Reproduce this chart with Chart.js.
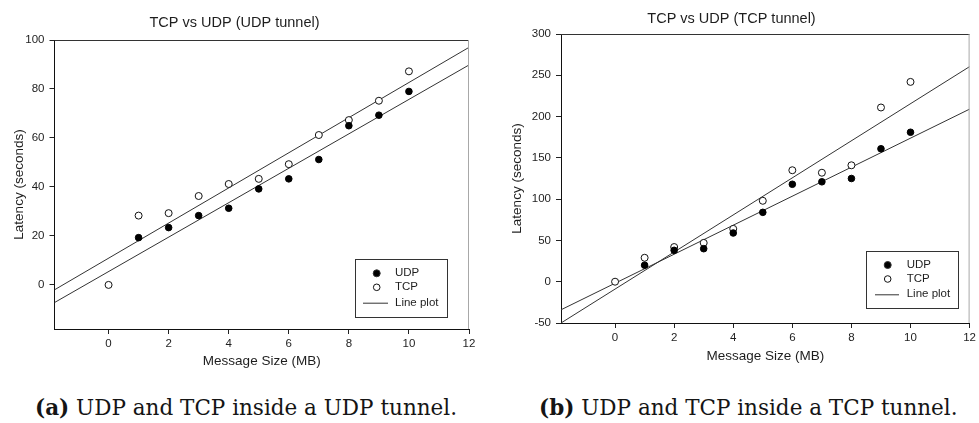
<!DOCTYPE html>
<html>
<head>
<meta charset="utf-8">
<script src="https://cdn.jsdelivr.net/npm/chart.js@4.4.1/dist/chart.umd.min.js"></script>
<style>
  html, body { margin: 0; padding: 0; background: #fff; }
  body { width: 979px; height: 423px; overflow: hidden; position: relative; }
  #c1 { position: absolute; left: 0; top: 0; }
  #c2 { position: absolute; left: 490px; top: 0; }
  .cap { position: absolute; top: 395px; font-family: "DejaVu Serif", "Liberation Serif", serif; font-size: 21.5px; line-height: 26px; color: #151515; white-space: nowrap; }
  #capA { left: 35px; }
  #capB { left: 539px; }
</style>
</head>
<body>
<canvas id="c1" width="490" height="375"></canvas>
<canvas id="c2" width="489" height="375"></canvas>
<div class="cap" id="capA"><b>(a)</b> UDP and TCP inside a UDP tunnel.</div>
<div class="cap" id="capB"><b>(b)</b> UDP and TCP inside a TCP tunnel.</div>
<script>
// ---- data ----
const titleA = "TCP vs UDP (UDP tunnel)";
const titleB = "TCP vs UDP (TCP tunnel)";
const xTitle = "Message Size (MB)";
const yTitle = "Latency (seconds)";
const legendLabels = ["UDP", "TCP", "Line plot"];

const sizesUDP = [1, 2, 3, 4, 5, 6, 7, 8, 9, 10];
const sizesTCP = [0, 1, 2, 3, 4, 5, 6, 7, 8, 9, 10];

// (a) UDP tunnel
const udpTunnelUDP = [19.3, 23.4, 28.3, 31.3, 39.2, 43.3, 51.2, 65, 69.3, 79];
const udpTunnelTCP = [0, 28.3, 29.3, 36.3, 41.2, 43.3, 49.3, 61.2, 67.3, 75.2, 87.2];
const udpTunnelFitX = [-1.8, 12];
const udpTunnelFitUDP = [-7.2, 89.8];
const udpTunnelFitTCP = [-2, 97];

// (b) TCP tunnel
const tcpTunnelUDP = [20, 38, 40, 59, 84, 118, 121, 125, 161, 181];
const tcpTunnelTCP = [0, 29, 42, 47, 64, 98, 135, 132, 141, 211, 242];
const tcpTunnelFitX = [-1.83, 12];
const tcpTunnelFitUDP = [-34, 209];
const tcpTunnelFitTCP = [-50, 260.5];

const xTicks = [0, 2, 4, 6, 8, 10, 12];
const yTicksA = [0, 20, 40, 60, 80, 100];
const yTicksB = [-50, 0, 50, 100, 150, 200, 250, 300];

// ---- drawing ----
const FONT = '"Liberation Sans", Arial, sans-serif';
const INK = '#1e1e1e';

const zip = (xs, ys) => xs.map((x, i) => ({ x: x, y: ys[i] }));

const framePlugin = {
  id: 'frame',
  afterDatasetsDraw(chart) {
    const { ctx, chartArea: a } = chart;
    ctx.save();
    ctx.lineWidth = 1;
    ctx.strokeStyle = '#333';
    ctx.beginPath();
    ctx.moveTo(a.left, a.top + 0.5);
    ctx.lineTo(a.right, a.top + 0.5);
    ctx.stroke();
    ctx.strokeStyle = '#a8a8a8';
    ctx.beginPath();
    ctx.moveTo(a.right - 0.5, a.top);
    ctx.lineTo(a.right - 0.5, a.bottom);
    ctx.stroke();
    ctx.restore();
  }
};

const boxLegendPlugin = {
  id: 'boxLegend',
  afterDraw(chart, args, o) {
    const ctx = chart.ctx;
    ctx.save();
    ctx.fillStyle = '#fff';
    ctx.fillRect(o.box[0], o.box[1], o.box[2] - o.box[0], o.box[3] - o.box[1]);
    ctx.strokeStyle = '#333';
    ctx.lineWidth = 1;
    ctx.strokeRect(o.box[0] + 0.5, o.box[1] + 0.5, o.box[2] - o.box[0], o.box[3] - o.box[1]);
    // UDP marker
    ctx.beginPath();
    ctx.arc(o.markerX, o.rows[0], 3.5, 0, Math.PI * 2);
    ctx.fillStyle = '#000';
    ctx.fill();
    ctx.stroke();
    // TCP marker
    ctx.beginPath();
    ctx.arc(o.markerX, o.rows[1], 3.3, 0, Math.PI * 2);
    ctx.fillStyle = '#fff';
    ctx.fill();
    ctx.strokeStyle = '#111';
    ctx.stroke();
    // line sample
    ctx.strokeStyle = '#333';
    ctx.beginPath();
    ctx.moveTo(o.line[0], o.rows[2] + 0.5);
    ctx.lineTo(o.line[1], o.rows[2] + 0.5);
    ctx.stroke();
    ctx.fillStyle = INK;
    ctx.font = '11.5px ' + FONT;
    ctx.textBaseline = 'middle';
    ctx.textAlign = 'left';
    legendLabels.forEach((t, i) => ctx.fillText(t, o.textX, o.rows[i]));
    ctx.restore();
  }
};

function makeChart(id, cfg) {
  const datasets = [
    { label: legendLabels[0], type: 'scatter', data: zip(sizesUDP, cfg.udp),
      backgroundColor: '#000', borderColor: '#000', borderWidth: 1, pointRadius: 3.3, pointHoverRadius: 3.3 },
    { label: legendLabels[1], type: 'scatter', data: zip(sizesTCP, cfg.tcp),
      backgroundColor: '#fff', borderColor: '#111', borderWidth: 1, pointRadius: 3.5, pointHoverRadius: 3.5 },
    { label: legendLabels[2], type: 'line', data: zip(cfg.fitX, cfg.fitUDP),
      borderColor: '#333', borderWidth: 1, pointRadius: 0, fill: false, tension: 0 },
    { label: legendLabels[2], type: 'line', data: zip(cfg.fitX, cfg.fitTCP),
      borderColor: '#333', borderWidth: 1, pointRadius: 0, fill: false, tension: 0 }
  ];
  return new Chart(document.getElementById(id), {
    type: 'scatter',
    data: { datasets },
    plugins: [framePlugin, boxLegendPlugin],
    options: {
      responsive: false,
      animation: false,
      devicePixelRatio: 1,
      layout: { padding: { left: 0, right: cfg.padRight, top: 0, bottom: 0 } },
      plugins: {
        legend: { display: false },
        tooltip: { enabled: false },
        title: {
          display: true, text: cfg.title, color: INK,
          font: { family: FONT, size: 14.5, weight: 'normal', lineHeight: 1.2 },
          padding: { top: cfg.titleTop, bottom: cfg.titleBottom }
        },
        boxLegend: cfg.legend
      },
      scales: {
        x: {
          type: 'linear', min: cfg.xMin, max: 12,
          afterBuildTicks: s => { s.ticks = xTicks.map(v => ({ value: v })); },
          afterFit: s => { s.height = cfg.xHeight; },
          grid: { display: true, drawOnChartArea: false, drawTicks: true, tickLength: 5, color: '#222', lineWidth: 1 },
          border: { display: true, color: '#111', width: 1 },
          ticks: { color: INK, font: { family: FONT, size: 11.5 }, padding: 3, maxRotation: 0, autoSkip: false },
          title: { display: true, text: xTitle, color: INK, font: { family: FONT, size: 13.5, lineHeight: 1.2 },
                   padding: { top: 0, bottom: cfg.xTitleBottom } }
        },
        y: {
          type: 'linear', min: cfg.yMin, max: cfg.yMax,
          afterBuildTicks: s => { s.ticks = cfg.yTicks.map(v => ({ value: v })); },
          afterFit: s => { s.width = cfg.yWidth; },
          grid: { display: true, drawOnChartArea: false, drawTicks: true, tickLength: 5, color: '#222', lineWidth: 1 },
          border: { display: true, color: '#111', width: 1 },
          ticks: { color: INK, font: { family: FONT, size: 11.5 }, padding: 5, autoSkip: false },
          title: { display: true, text: yTitle, color: INK, font: { family: FONT, size: 13.5, lineHeight: 1.2 },
                   padding: { top: cfg.yTitleTop, bottom: 0 } }
        }
      }
    }
  });
}

makeChart('c1', {
  title: titleA, udp: udpTunnelUDP, tcp: udpTunnelTCP,
  fitX: udpTunnelFitX, fitUDP: udpTunnelFitUDP, fitTCP: udpTunnelFitTCP,
  xMin: -1.8, yMin: -18, yMax: 100, yTicks: yTicksA,
  padRight: 21, titleTop: 13.8, titleBottom: 8.8,
  xHeight: 46, xTitleBottom: 5.2, yWidth: 54.5, yTitleTop: 10.9,
  legend: { box: [355, 259, 447, 317], markerX: 376.7, textX: 395, rows: [273.3, 287.3, 302.7], line: [363, 388] }
});

makeChart('c2', {
  title: titleB, udp: tcpTunnelUDP, tcp: tcpTunnelTCP,
  fitX: tcpTunnelFitX, fitUDP: tcpTunnelFitUDP, fitTCP: tcpTunnelFitTCP,
  xMin: -1.83, yMin: -50, yMax: 300, yTicks: yTicksB,
  padRight: 6, titleTop: 10.3, titleBottom: 6.3,
  xHeight: 52, xTitleBottom: 10.2, yWidth: 71, yTitleTop: 19.4,
  legend: { box: [376, 251, 468, 308], markerX: 397.7, textX: 416.7, rows: [265, 279, 294.3], line: [385, 409] }
});
</script>
</body>
</html>
